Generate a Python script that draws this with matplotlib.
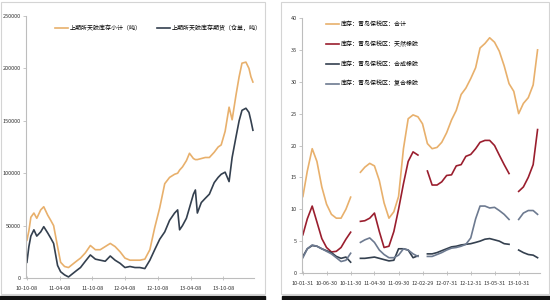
import numpy as np
import pandas as pd
import matplotlib
matplotlib.use("Agg")
import matplotlib.pyplot as plt
import matplotlib.dates as mdates
from matplotlib.patches import Rectangle

plt.rcParams['font.family'] = ['Liberation Sans Narrow', 'Noto Sans CJK SC', 'DejaVu Sans']

# ---- left panel: SHFE natural rubber stocks (tons)
shfe_dates = ["2010-10-08", "2010-10-19", "2010-10-30", "2010-11-16", "2010-12-02", "2010-12-24",
              "2011-01-10", "2011-02-01", "2011-02-18", "2011-03-06", "2011-03-28", "2011-04-14",
              "2011-05-06", "2011-05-28", "2011-06-19", "2011-07-11", "2011-08-03", "2011-08-30",
              "2011-09-27", "2011-10-25", "2011-11-21", "2011-12-19", "2012-01-16", "2012-02-12",
              "2012-03-11", "2012-04-07", "2012-05-05", "2012-06-02", "2012-06-29", "2012-07-27",
              "2012-08-24", "2012-09-20", "2012-10-18", "2012-11-15", "2012-12-12", "2013-01-09",
              "2013-01-26", "2013-02-06", "2013-02-22", "2013-03-16", "2013-04-02", "2013-04-24",
              "2013-05-05", "2013-05-16", "2013-06-07", "2013-06-29", "2013-07-22", "2013-08-18",
              "2013-09-09", "2013-09-26", "2013-10-18", "2013-11-09", "2013-11-26", "2013-12-18",
              "2014-01-04", "2014-01-20", "2014-02-11", "2014-02-28", "2014-03-11", "2014-03-22"]
shfe_total = [36, 45, 58, 62, 57, 65, 68, 60, 55, 50, 30, 15, 11, 10, 13, 16, 19, 24, 31, 27,
              27, 30, 33, 30, 25, 19, 17, 17, 17, 18, 27, 48, 67, 90, 96, 99, 100, 103, 106, 112,
              119, 114, 113, 113, 114, 115, 115, 120, 125, 127, 140, 163, 151, 175, 192, 205, 206,
              200, 192, 187]
shfe_warrant = [15, 30, 40, 46, 40, 44, 49, 43, 38, 33, 12, 6, 3, 1, 4, 7, 10, 16, 22, 18,
                17, 16, 21, 17, 14, 10, 11, 10, 10, 9, 17, 27, 37, 44, 55, 62, 65, 46, 50, 57,
                67, 80, 84, 62, 72, 76, 80, 91, 96, 99, 101, 92, 115, 135, 150, 160, 162,
                158, 150, 141]
left_labels = ["上期所天胶库存小计（吨）", "上期所天胶库存期货（仓单，吨）"]
left_ticks = ["2010-10-08", "2011-04-08", "2011-10-08", "2012-04-08",
              "2012-10-08", "2013-04-08", "2013-10-08"]

# ---- right panel: Qingdao bonded zone stocks (10k tons), monthly
qd_dates = pd.date_range("2010-01-31", periods=50, freq="ME")
nan = np.nan
qd_total = [12, 16, 19.5, 17.5, 13.5, 10.8, 9.2, 8.6, 8.6, 10, 11.9, nan, 15.8, 16.6, 17.2, 16.8,
            14.5, 11, 8.6, 9.6, 12, 19.5, 24.2, 24.8, 24.5, 23.4, 20.3, 19.5, 19.7, 20.5, 22, 24,
            25.5, 28, 29, 30.5, 32.2, 35.3, 36, 36.9, 36.2, 34.8, 32.5, 29.7, 28.5, 25, 26.6,
            27.5, 29.5, 35]
qd_natural = [6, 8.5, 10.5, 8, 5.4, 4, 3.3, 3.4, 4, 5.3, 6.4, nan, 8.1, 8.2, 8.6, 9.4, 6.5, 4,
              4.2, 6.5, 10, 14, 17.5, 19, 18.5, nan, 16, 13.8, 13.8, 14.3, 15.3, 15.4, 16.8, 17,
              18.3, 18.6, 19.5, 20.5, 20.8, 20.8, 20, 18.5, 17, 15.6, nan, 12.8, 13.5, 15, 17,
              22.5]
qd_synthetic = [2.6, 3.8, 4.3, 4.2, 3.8, 3.5, 3.2, 2.6, 2.3, 2.5, 1.7, nan, 2.3, 2.3, 2.4, 2.5,
                2.3, 2.1, 1.9, 2.0, 3.8, 3.8, 3.6, 2.4, 2.7, nan, 3.0, 3.0, 3.2, 3.5, 3.8, 4.1,
                4.2, 4.4, 4.5, 4.6, 4.8, 5.0, 5.3, 5.4, 5.2, 5.0, 4.6, 4.5, nan, 3.6, 3.2, 2.9,
                2.8, 2.4]
qd_compound = [2.4, 3.8, 4.4, 4.2, 3.8, 3.4, 3.0, 2.4, 1.8, 2.0, 3.1, nan, 4.8, 5.2, 5.5, 4.8,
               3.6, 2.9, 2.4, 2.4, 2.8, 3.8, 3.6, 3.0, 2.6, nan, 2.6, 2.6, 2.9, 3.2, 3.6, 3.9,
               4.0, 4.2, 4.5, 5.5, 8.5, 10.5, 10.5, 10.2, 10.3, 9.8, 9.2, 8.4, nan, 8.4, 9.4,
               9.8, 9.8, 9.2]
right_labels = ["库存：青岛保税区：合计", "库存：青岛保税区：天然橡胶",
                "库存：青岛保税区：合成橡胶", "库存：青岛保税区：复合橡胶"]
right_ticks = ["2010-01-31", "2010-06-30", "2010-11-30", "2011-04-30", "2011-09-30",
               "2012-02-29", "2012-07-31", "2012-12-31", "2013-05-31", "2013-10-31"]

orange = "#e8b06c"
navy = "#34404f"
red = "#9a1e2e"
slate = "#6d7a90"
axis_col = "#bdbdbd"
fs = 4.0

fig = plt.figure(figsize=(5.5, 3.0), dpi=100)

# panel frames and bottom dark strips
for x0, w in [(0.002, 0.480), (0.511, 0.487)]:
    fig.patches.append(Rectangle((x0, 0.02), w, 0.975, transform=fig.transFigure,
                                 fill=False, edgecolor="#d4d4d4", lw=0.8))
fig.patches.append(Rectangle((0.0, 0.0), 0.482, 0.013, transform=fig.transFigure,
                             color="#111111"))
fig.patches.append(Rectangle((0.513, 0.0), 0.487, 0.013, transform=fig.transFigure,
                             color="#111111"))


def style(ax):
    for s in ["top", "right"]:
        ax.spines[s].set_visible(False)
    for s in ["left", "bottom"]:
        ax.spines[s].set_color(axis_col)
        ax.spines[s].set_linewidth(0.8)
    ax.tick_params(axis="y", length=2, width=0.6, color=axis_col, labelsize=fs,
                   labelcolor="#333333", pad=1.5)
    ax.tick_params(axis="x", direction="inout", length=3, width=0.6, color=axis_col,
                   labelsize=fs, labelcolor="#333333", pad=4)


# left chart
ax1 = fig.add_axes([0.0473, 0.0733, 0.4145, 0.8733])
d1 = pd.to_datetime(shfe_dates)
ax1.plot(d1, np.array(shfe_total) * 1000, color=orange, lw=1.2, label=left_labels[0])
ax1.plot(d1, np.array(shfe_warrant) * 1000, color=navy, lw=1.2, label=left_labels[1])
ax1.set_ylim(0, 250000)
ax1.set_yticks(range(0, 250001, 50000))
ax1.set_xlim(pd.Timestamp("2010-10-03"), pd.Timestamp("2014-03-28"))
ax1.set_xticks(pd.to_datetime(left_ticks))
ax1.xaxis.set_major_formatter(mdates.DateFormatter("%y-%m-%d"))
style(ax1)
ax1.legend(loc="upper left", bbox_to_anchor=(0.095, 0.925), bbox_transform=fig.transFigure,
           ncol=2, frameon=False, fontsize=4.3, handlelength=2.2, handletextpad=0.3,
           columnspacing=2.6, borderaxespad=0)

# right chart
ax2 = fig.add_axes([0.549, 0.09, 0.4327, 0.85])
ax2.plot(qd_dates, qd_total, color=orange, lw=1.2, label=right_labels[0])
ax2.plot(qd_dates, qd_natural, color=red, lw=1.2, label=right_labels[1])
ax2.plot(qd_dates, qd_synthetic, color=navy, lw=1.2, label=right_labels[2])
ax2.plot(qd_dates, qd_compound, color=slate, lw=1.2, label=right_labels[3])
ax2.set_ylim(0, 40)
ax2.set_yticks(range(0, 41, 5))
ax2.set_xlim(pd.Timestamp("2010-01-25"), pd.Timestamp("2014-03-15"))
ax2.set_xticks(pd.to_datetime(right_ticks))
ax2.xaxis.set_major_formatter(mdates.DateFormatter("%y-%m-%d"))
style(ax2)
ax2.legend(loc="upper left", bbox_to_anchor=(0.588, 0.935), bbox_transform=fig.transFigure,
           frameon=False, fontsize=4.3, handlelength=2.2, handletextpad=0.3,
           labelspacing=2.3, borderaxespad=0)

fig.savefig("out.png", dpi=100)
